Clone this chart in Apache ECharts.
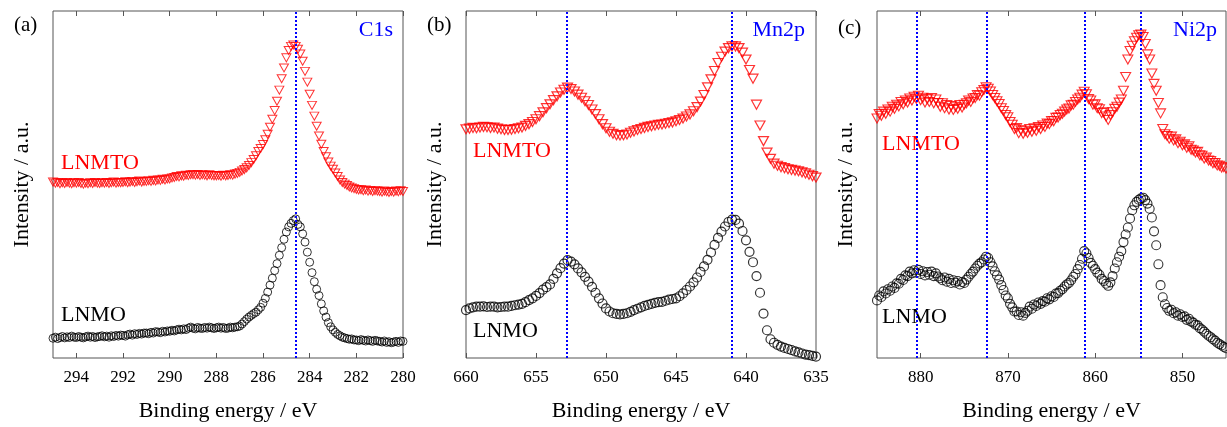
<!DOCTYPE html>
<html>
<head>
<meta charset="utf-8">
<title>XPS C1s / Mn2p / Ni2p</title>
<script src="https://cdn.jsdelivr.net/npm/echarts@6/dist/echarts.min.js"></script>
<style>
html, body { margin: 0; padding: 0; background: #fff; }
#chart { width: 1227px; height: 427px; }
</style>
</head>
<body>
<div id="chart"></div>
<script>
// ---- data (intensity in arbitrary units, 0..100 over the frame height) ----
// (a) C1s, 295 -> 280 eV, step 0.1 eV
const c1sStart = 295, c1sStep = 0.1;
const c1sLNMTO = [
  50.7, 50.4, 50.6, 50.2, 50.5, 50.3, 50.6, 50.4, 50.2, 50.5,
  50.4, 50.6, 50.3, 50.1, 50.4, 50.2, 50.5, 50.3, 50.6, 50.4,
  50.3, 50.5, 50.4, 50.6, 50.3, 50.5, 50.7, 50.4, 50.6, 50.5,
  50.6, 50.8, 50.5, 50.7, 50.9, 50.6, 50.8, 51.0, 50.7, 50.9,
  50.9, 51.1, 50.9, 51.2, 51.0, 51.3, 51.2, 51.5, 51.3, 51.6,
  51.6, 51.9, 52.0, 52.3, 52.2, 52.5, 52.4, 52.7, 52.6, 52.8,
  52.8, 52.7, 52.9, 52.6, 52.8, 52.7, 52.5, 52.8, 52.6, 52.5,
  52.5, 52.6, 52.4, 52.7, 52.5, 52.6, 52.8, 52.7, 53.0, 53.2,
  53.5, 53.9, 54.3, 54.8, 55.5, 56.3, 57.2, 58.3, 59.5, 60.4,
  61.5, 62.9, 64.5, 66.5, 68.8, 71.3, 74.0, 77.2, 80.5, 83.6,
  86.5, 88.6, 89.8, 90.2, 89.8, 89.0, 87.6, 85.5, 82.6, 79.5,
  76.0, 72.8, 69.7, 66.8, 64.0, 61.6, 59.5, 58.0, 56.5, 55.3,
  54.4, 53.3, 52.3, 51.3, 50.6, 50.1, 49.7, 49.3, 49.0, 48.8,
  48.6, 48.4, 48.5, 48.2, 48.4, 48.1, 48.3, 48.0, 48.2, 48.1,
  48.0, 47.8, 48.1, 47.9, 47.7, 48.0, 47.8, 48.1, 47.9, 48.2,
  48.0
];
const c1sLNMO = [
  5.7, 6.0, 5.6, 5.9, 6.2, 5.8, 6.1, 5.9, 6.3, 6.0,
  5.9, 6.2, 6.0, 5.8, 6.1, 6.3, 6.0, 6.2, 5.9, 6.1,
  6.2, 6.4, 6.1, 6.3, 6.0, 6.4, 6.2, 6.5, 6.3, 6.6,
  6.5, 6.3, 6.7, 6.9, 6.6, 7.0, 6.8, 7.1, 6.9, 7.2,
  7.2, 7.0, 7.4, 7.2, 7.6, 7.5, 7.3, 7.7, 7.5, 7.8,
  7.7, 8.0, 7.8, 8.1, 8.3, 8.1, 8.4, 8.2, 8.6, 8.9,
  8.6, 8.4, 8.8, 8.6, 8.5, 8.8, 8.6, 8.9, 8.7, 8.5,
  8.7, 8.9, 8.6, 8.8, 8.5, 8.6, 8.9, 8.7, 8.9, 9.0,
  9.2, 9.8, 10.5, 11.2, 11.8, 12.3, 12.8, 13.2, 13.9, 14.6,
  15.8, 17.2, 19.0, 21.0, 23.0, 25.2, 27.2, 29.6, 31.8, 34.2,
  36.3, 37.8, 38.8, 39.6, 40.1, 38.5, 37.8, 35.8, 33.4, 30.5,
  27.6, 24.6, 22.0, 19.8, 18.0, 15.6, 13.6, 11.8, 10.2, 9.0,
  8.1, 7.4, 6.8, 6.4, 6.0, 5.8, 5.6, 5.4, 5.5, 5.2,
  5.2, 5.0, 5.3, 5.1, 4.9, 5.2, 5.0, 4.8, 5.1, 4.9,
  4.8, 4.6, 4.9, 4.5, 4.7, 4.4, 4.6, 4.8, 4.5, 4.9,
  4.8
];
const c1sTicks = [294, 292, 290, 288, 286, 284, 282, 280];
const c1sPeaks = [284.6];

// (b) Mn2p, 660 -> 635 eV, step 0.25 eV (one row per eV)
const mnStart = 660, mnStep = 0.25;
const mnLNMTO = [
  65.9, 66.1, 66.3, 66.2,
  66.4, 66.6, 66.5, 66.3,
  66.4, 66.1, 65.9, 65.7,
  65.7, 65.8, 66.0, 66.2,
  66.4, 66.9, 67.4, 68.0,
  68.8, 69.7, 70.8, 72.0,
  73.1, 74.3, 75.4, 76.5,
  77.3, 77.9, 77.5, 76.8,
  75.9, 75.0, 74.0, 72.9,
  71.6, 70.3, 68.8, 67.4,
  66.2, 65.2, 64.6, 64.2,
  64.1, 64.2, 64.4, 64.9,
  65.3, 65.7, 66.0, 66.3,
  66.6, 66.8, 67.0, 67.2,
  67.3, 67.5, 67.7, 67.9,
  68.2, 68.6, 69.0, 69.6,
  70.2, 71.1, 72.3, 73.9,
  75.8, 78.0, 80.3, 82.7,
  85.0, 86.8, 88.3, 89.3,
  89.8, 89.8, 89.3, 88.0,
  86.0, 83.0, 80.5, 73.0,
  67.0, 62.5, 59.2, 57.4,
  56.0, 55.4, 55.0, 54.7,
  54.4, 54.2, 54.0, 53.8,
  53.5, 53.2, 52.8, 52.4,
  52.0
];
const mnLNMO = [
  13.8, 14.3, 14.6, 14.8,
  14.8, 14.9, 14.7, 14.8,
  14.8, 14.6, 14.7, 14.8,
  14.8, 15.0, 15.2, 15.4,
  15.6, 16.1, 16.7, 17.2,
  17.9, 18.7, 19.7, 20.4,
  21.2, 22.8, 24.4, 25.9,
  27.2, 28.2, 27.8, 27.0,
  25.8, 24.7, 23.4, 22.0,
  20.5, 18.8, 17.2, 15.7,
  14.3, 13.4, 12.9, 12.7,
  12.6, 12.7, 12.9, 13.3,
  13.8, 14.2, 14.6, 15.0,
  15.3, 15.6, 15.9, 16.1,
  16.2, 16.5, 16.8, 17.0,
  17.2, 17.8, 18.6, 19.6,
  20.6, 21.8, 23.2, 24.8,
  26.4, 28.3, 30.4, 32.6,
  34.6, 36.4, 37.9, 39.2,
  39.9, 39.8, 38.7, 36.6,
  33.9, 30.6, 27.6, 23.6,
  18.8, 12.8, 8.0, 5.4,
  4.4, 3.8, 3.3, 2.9,
  2.6, 2.3, 1.9, 1.6,
  1.3, 1.0, 0.8, 0.6,
  0.4
];
const mnTicks = [660, 655, 650, 645, 640, 635];
const mnPeaks = [652.8, 641.0];

// (c) Ni2p, 885 -> 845 eV, step 0.25 eV (one row per 2 eV)
const niStart = 885, niStep = 0.25;
const niLNMTO = [
  69.0, 70.3, 69.8, 71.0, 70.4, 71.6, 71.0, 72.4,
  71.8, 73.0, 72.5, 73.8, 73.1, 74.2, 73.6, 74.8,
  74.2, 75.3, 74.7, 75.6, 74.3, 75.0, 73.6, 74.6,
  73.8, 74.9, 73.4, 74.5, 73.5, 72.4, 73.4, 72.0,
  72.9, 71.6, 72.6, 71.5, 72.4, 71.8, 72.9, 72.2,
  73.0, 73.4, 74.2, 73.8, 74.8, 74.9, 75.8, 75.6,
  76.6, 77.2, 78.0, 77.6, 76.8, 75.8, 74.9, 74.0,
  73.2, 72.0, 71.2, 70.0, 69.4, 68.0, 67.2, 66.0,
  66.3, 64.8, 65.6, 64.6, 65.5, 64.9, 66.0, 65.2,
  66.2, 65.5, 66.6, 66.0, 67.0, 66.6, 67.6, 67.4,
  68.3, 68.2, 69.2, 69.3, 70.0, 70.4, 71.0, 71.6,
  71.9, 72.8, 73.0, 73.8, 74.5, 75.0, 75.9, 76.7,
  76.0, 74.6, 74.2, 73.0, 73.1, 72.0, 71.7, 70.6,
  70.8, 69.6, 68.6, 70.0, 70.8, 71.8, 72.4, 73.6,
  74.5, 77.0, 81.0, 86.0, 88.5, 90.0, 91.3, 92.3,
  93.0, 93.2, 92.5, 90.5, 87.5, 86.0, 82.0, 79.0,
  77.0, 73.5, 70.5, 66.0, 64.5, 64.0, 63.2, 63.8,
  62.7, 63.0, 61.9, 62.3, 61.3, 61.6, 60.6, 61.0,
  60.0, 59.8, 59.2, 59.4, 58.4, 58.3, 57.5, 57.8,
  56.9, 56.8, 56.1, 56.2, 55.5, 55.4, 54.9, 55.0,
  54.6
];
const niLNMO = [
  16.6, 18.0, 17.6, 19.2, 18.6, 19.8, 19.4, 20.6,
  20.2, 21.5, 21.4, 22.8, 22.5, 23.8, 23.6, 24.9,
  24.4, 25.3, 24.6, 25.4, 24.2, 25.0, 23.8, 24.8,
  24.0, 24.9, 23.6, 24.4, 23.5, 23.0, 22.4, 23.2,
  22.0, 22.8, 21.6, 22.4, 21.7, 22.2, 21.2, 21.9,
  21.6, 22.6, 23.4, 24.2, 24.9, 25.8, 26.6, 27.2,
  27.6, 28.4, 29.2, 28.8, 27.6, 26.4, 25.0, 23.8,
  22.6, 21.0, 19.6, 18.0, 17.2, 15.6, 14.6, 13.4,
  13.4, 12.4, 13.2, 12.2, 13.0, 13.6, 14.8, 14.2,
  15.4, 15.0, 16.0, 15.6, 16.4, 16.2, 17.2, 16.9,
  17.8, 17.6, 18.6, 18.7, 19.4, 19.8, 20.6, 21.2,
  21.6, 22.4, 23.4, 24.2, 25.6, 26.8, 28.6, 30.8,
  30.2, 28.8, 27.4, 26.6, 25.6, 24.6, 24.0, 22.8,
  22.2, 21.4, 20.8, 21.8, 23.6, 25.8, 27.6, 29.2,
  30.8, 33.4, 35.6, 37.6, 40.2, 42.6, 44.0, 45.0,
  45.6, 46.0, 46.2, 45.5, 44.5, 43.0, 40.5, 36.5,
  32.5, 27.0, 21.0, 17.5, 15.5, 14.4, 13.6, 13.9,
  12.9, 13.2, 12.2, 12.6, 11.8, 12.0, 11.0, 11.3,
  10.5, 10.2, 9.6, 9.4, 8.6, 8.2, 7.6, 7.0,
  6.4, 6.0, 5.4, 5.0, 4.4, 4.0, 3.6, 3.2,
  2.8
];
const niTicks = [880, 870, 860, 850];
const niPeaks = [880.5, 872.4, 861.2, 854.8];

// ---- helpers ----
const serif = '"Liberation Serif", "Times New Roman", serif';
const frame = '#555';

function toPoints(start, step, vals) {
  return vals.map((v, i) => [+(start - i * step).toFixed(2), v]);
}

const panels = [
  {left: 53,  width: 350, min: 280, max: 295, ticks: c1sTicks, peaks: c1sPeaks,
   red: toPoints(c1sStart, c1sStep, c1sLNMTO), black: toPoints(c1sStart, c1sStep, c1sLNMO),
   size: 8, bw: 1},
  {left: 466, width: 350, min: 635, max: 660, ticks: mnTicks, peaks: mnPeaks,
   red: toPoints(mnStart, mnStep, mnLNMTO), black: toPoints(mnStart, mnStep, mnLNMO),
   size: 9, bw: 1.2},
  {left: 877, width: 349, min: 845, max: 885, ticks: niTicks, peaks: niPeaks,
   red: toPoints(niStart, niStep, niLNMTO), black: toPoints(niStart, niStep, niLNMO),
   size: 9, bw: 1.1}
];

let grid = [], xAxis = [], yAxis = [], series = [];
panels.forEach((p, i) => {
  grid.push({left: p.left, top: 11, width: p.width, height: 349,
             show: true, borderColor: frame, borderWidth: 1});
  xAxis.push({
    type: 'value', gridIndex: i, position: 'bottom', inverse: true,
    min: p.min, max: p.max,
    axisLine: {show: false},
    axisTick: {show: true, inside: true, length: 5, customValues: p.ticks,
               lineStyle: {color: frame}},
    axisLabel: {customValues: p.ticks, margin: 11, fontSize: 17,
                fontFamily: serif, color: '#000'},
    splitLine: {show: false},
    name: 'Binding energy / eV', nameLocation: 'middle', nameGap: 42,
    nameTextStyle: {fontSize: 22, fontFamily: serif, color: '#000'}
  });
  xAxis.push({
    type: 'value', gridIndex: i, position: 'top', inverse: true,
    min: p.min, max: p.max,
    axisLine: {show: false},
    axisTick: {show: true, inside: true, length: 5, customValues: p.ticks,
               lineStyle: {color: frame}},
    axisLabel: {show: false},
    splitLine: {show: false}
  });
  yAxis.push({
    type: 'value', gridIndex: i, min: 0, max: 100,
    axisLine: {show: false}, axisTick: {show: false},
    axisLabel: {show: false}, splitLine: {show: false},
    name: 'Intensity / a.u.', nameLocation: 'middle', nameGap: 20,
    nameTextStyle: {fontSize: 22, fontFamily: serif, color: '#000'}
  });
  series.push({
    name: 'LNMO', type: 'scatter', xAxisIndex: 2 * i, yAxisIndex: i,
    data: p.black, symbol: 'circle', symbolSize: p.size,
    itemStyle: {color: 'rgba(0,0,0,0)', borderColor: '#000', borderWidth: p.bw}
  });
  series.push({
    name: 'LNMTO', type: 'scatter', xAxisIndex: 2 * i, yAxisIndex: i,
    data: p.red, symbol: 'triangle', symbolRotate: 180, symbolSize: [p.size + 1, p.size],
    itemStyle: {color: 'rgba(0,0,0,0)', borderColor: '#ff0000', borderWidth: p.bw},
    markLine: {
      silent: true, symbol: ['none', 'none'], label: {show: false},
      lineStyle: {color: '#0000ff', width: 2, type: [2, 2]},
      data: p.peaks.map(e => ({xAxis: e}))
    }
  });
});

function txt(x, y, s, color, align, size) {
  return {type: 'text', x: x, y: y, silent: true,
          style: {text: s, fill: color, font: (size || 22) + 'px ' + serif,
                  align: align || 'left', verticalAlign: 'middle'}};
}

const chart = echarts.init(document.getElementById('chart'));
chart.setOption({
  animation: false,
  grid: grid, xAxis: xAxis, yAxis: yAxis, series: series,
  graphic: [
    txt(14, 25, '(a)', '#000', 'left', 21),
    txt(393, 30, 'C1s', '#0000ff', 'right'),
    txt(61, 163, 'LNMTO', '#ff0000'),
    txt(61, 315, 'LNMO', '#000'),
    txt(427, 25, '(b)', '#000', 'left', 21),
    txt(805, 30, 'Mn2p', '#0000ff', 'right'),
    txt(473, 151, 'LNMTO', '#ff0000'),
    txt(473, 331, 'LNMO', '#000'),
    txt(838, 28, '(c)', '#000', 'left', 21),
    txt(1217, 30, 'Ni2p', '#0000ff', 'right'),
    txt(882, 144, 'LNMTO', '#ff0000'),
    txt(882, 317, 'LNMO', '#000')
  ]
});
</script>
</body>
</html>
